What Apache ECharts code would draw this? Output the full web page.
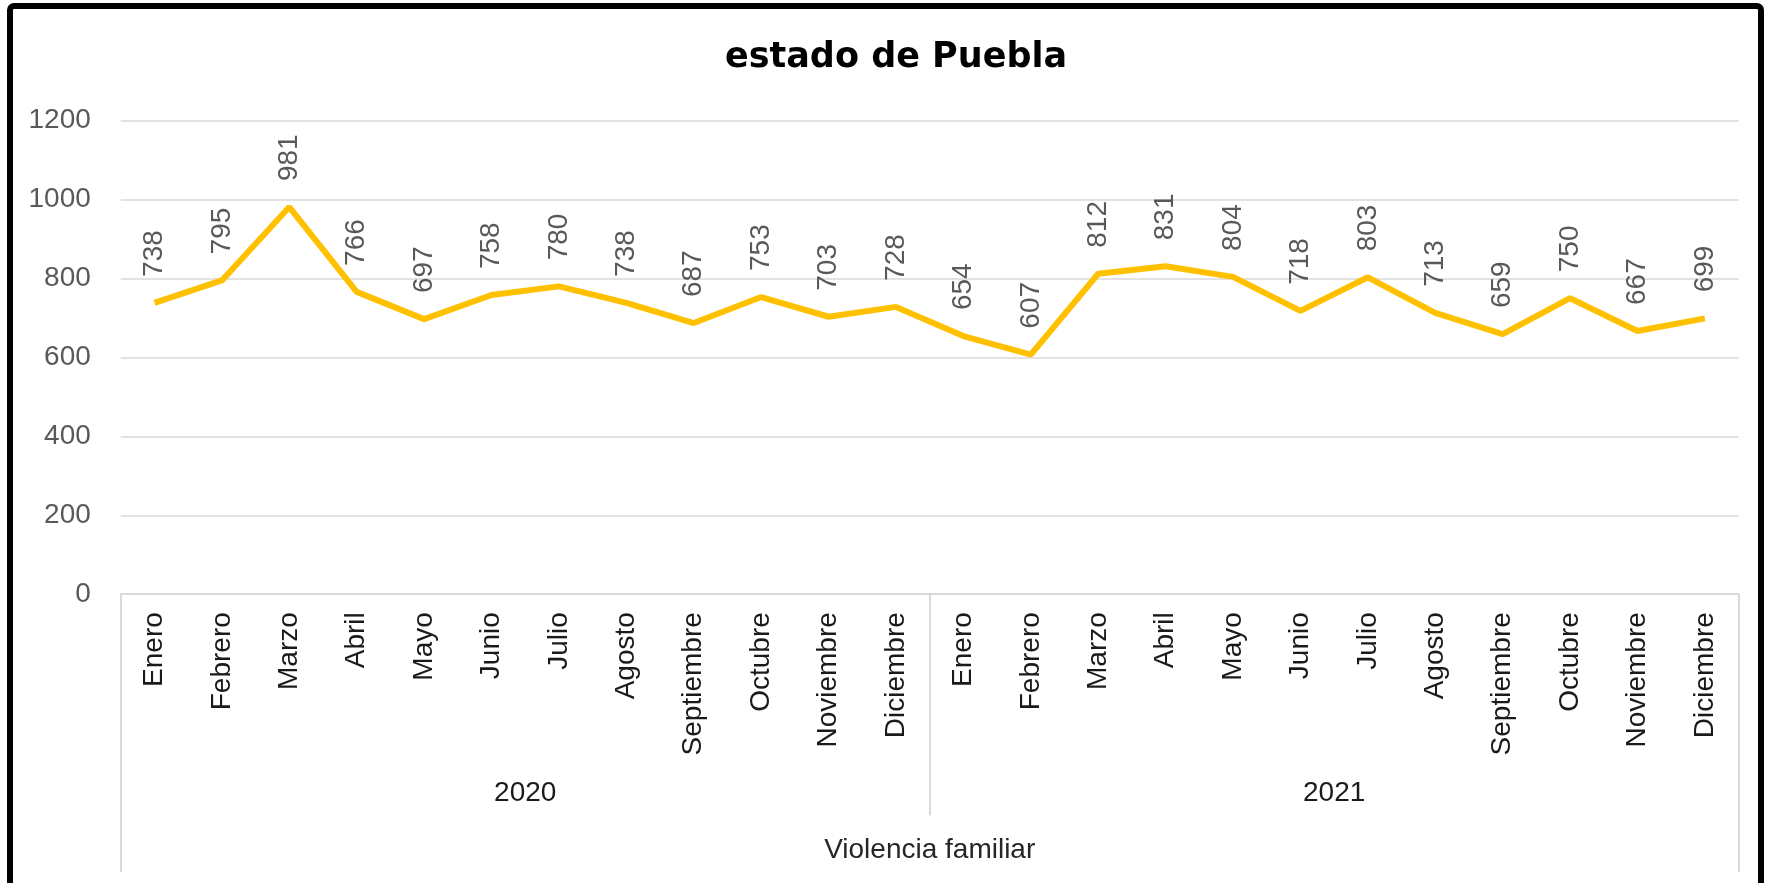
<!DOCTYPE html>
<html>
<head>
<meta charset="utf-8">
<script src="https://cdn.jsdelivr.net/npm/echarts@6/dist/echarts.min.js"></script>
<style>
html,body{margin:0;padding:0;background:#fff;}
#chart{width:1768px;height:883px;}
</style>
</head>
<body>
<div id="chart"></div>
<script>
var titleText = 'estado de Puebla';
var months = ['Enero','Febrero','Marzo','Abril','Mayo','Junio','Julio','Agosto','Septiembre','Octubre','Noviembre','Diciembre'];
var years = ['2020','2021'];
var groupLabel = ['Violencia familiar'];
var values2020 = [738,795,981,766,697,758,780,738,687,753,703,728];
var values2021 = [654,607,812,831,804,718,803,713,659,750,667,699];
var yTicks = {min:0, max:1200, interval:200};

var categories = months.concat(months);
var values = values2020.concat(values2021);

var chart = echarts.init(document.getElementById('chart'));
var FONT = '"Liberation Sans", Arial, sans-serif';
var option = {
  animation:false,
  backgroundColor:'#fff',
  title:{
    text:titleText,
    left:891, top:35, textAlign:'center',
    textStyle:{fontFamily:'"DejaVu Sans", sans-serif', fontWeight:'bold', fontSize:35, color:'#000'}
  },
  graphic:[{
    type:'rect', silent:true,
    shape:{x:10, y:6, width:1751, height:900, r:4},
    style:{fill:'none', stroke:'#000', lineWidth:6}
  }],
  grid:{left:120.8, right:29.4, top:120.6, bottom:288.8, containLabel:false},
  xAxis:[{
    type:'category', data:categories, position:'bottom', offset:0, boundaryGap:true,
    axisLine:{show:true, lineStyle:{color:'#d9d9d9', width:2}},
    axisTick:{show:false},
    axisLabel:{rotate:90, margin:18, fontSize:28, fontFamily:FONT, color:'#1a1a1a', interval:0}
  },{
    type:'category', data:years, position:'bottom', offset:0, boundaryGap:true,
    axisLine:{show:false},
    axisTick:{show:true, length:221, interval:0, lineStyle:{color:'#d9d9d9', width:2}},
    axisLabel:{margin:185, fontSize:28, fontFamily:FONT, color:'#1a1a1a', interval:0}
  },{
    type:'category', data:groupLabel, position:'bottom', offset:0, boundaryGap:true,
    axisLine:{show:false},
    axisTick:{show:true, length:278, interval:0, lineStyle:{color:'#d9d9d9', width:2}},
    axisLabel:{margin:242, fontSize:28, fontFamily:FONT, color:'#262626', interval:0}
  }],
  yAxis:{
    type:'value', min:yTicks.min, max:yTicks.max, interval:yTicks.interval,
    axisLine:{show:false}, axisTick:{show:false},
    splitLine:{lineStyle:{color:'#d9d9d9', width:1.5}},
    axisLabel:{margin:30, fontSize:28, fontFamily:FONT, color:'#595959',
      formatter:function(v){return String(v);}}
  },
  series:[{
    type:'line', xAxisIndex:0, data:values,
    symbol:'circle', symbolSize:0, showSymbol:true,
    lineStyle:{color:'#FFC000', width:6}, itemStyle:{color:'#FFC000'},
    labelLayout:{hideOverlap:false},
    label:{show:true, position:'top', distance:26, rotate:90, align:'left', verticalAlign:'middle',
      fontSize:28, fontFamily:FONT, color:'#595959'}
  }]
};
chart.setOption(option);
</script>
</body>
</html>
